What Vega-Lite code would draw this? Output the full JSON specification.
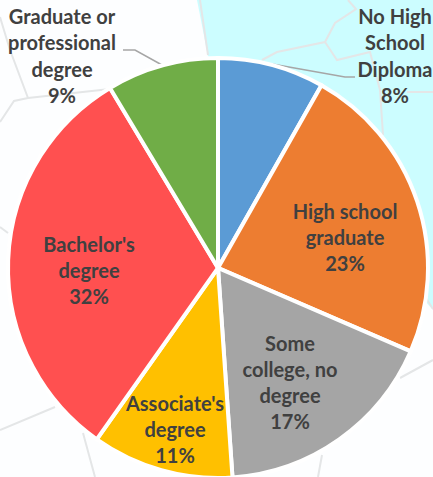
{"$schema":"https://vega.github.io/schema/vega-lite/v6.json","width":433,"height":477,"padding":0,"autosize":{"type":"none"},"background":"#fdfeff","config":{"view":{"stroke":null},"style":{"cell":{"stroke":null}}},
"datasets":{
"slices":[{"category":"No High School Diploma","share":8.2,"rank":1},{"category":"High school graduate","share":23.3,"rank":2},{"category":"Some college, no degree","share":17.4,"rank":3},{"category":"Associate's degree","share":10.9,"rank":4},{"category":"Bachelor's degree","share":31.6,"rank":5},{"category":"Graduate or professional degree","share":8.6,"rank":6}],
"sea":[{"e":197,"n":0,"n2":0},{"e":208,"n":56,"n2":0},{"e":424,"n":300,"n2":0},{"e":433,"n":310,"n2":0}],
"map":[
{"s":"a","i":1,"e":200,"n":0},{"s":"a","i":2,"e":208,"n":55},
{"s":"b","i":1,"e":348,"n":0},{"s":"b","i":2,"e":356,"n":9},{"s":"b","i":3,"e":335,"n":23},{"s":"b","i":4,"e":325,"n":42},{"s":"b","i":5,"e":277,"n":52},{"s":"b","i":6,"e":262,"n":60},
{"s":"c","i":1,"e":325,"n":42},{"s":"c","i":2,"e":337,"n":60},{"s":"c","i":3,"e":370,"n":52},{"s":"c","i":4,"e":380,"n":90},{"s":"c","i":5,"e":383,"n":135},
{"s":"d","i":1,"e":407,"n":92},{"s":"d","i":2,"e":433,"n":92},
{"s":"e","i":1,"e":0,"n":17},{"s":"e","i":2,"e":10,"n":50},{"s":"e","i":3,"e":28,"n":98},
{"s":"f","i":1,"e":0,"n":122},{"s":"f","i":2,"e":14,"n":101},{"s":"f","i":3,"e":28,"n":98},{"s":"f","i":4,"e":110,"n":89},
{"s":"g","i":1,"e":0,"n":227},{"s":"g","i":2,"e":8,"n":233},
{"s":"h","i":1,"e":0,"n":430},{"s":"h","i":2,"e":55,"n":407},
{"s":"j","i":1,"e":83,"n":433},{"s":"j","i":2,"e":95,"n":477},
{"s":"k","i":1,"e":400,"n":378},{"s":"k","i":2,"e":433,"n":360},
{"s":"l","i":1,"e":322,"n":455},{"s":"l","i":2,"e":318,"n":477},
{"s":"m","i":1,"e":426,"n":298},{"s":"m","i":2,"e":433,"n":309}],
"leaders":[
{"s":"grad","i":1,"e":123,"n":50},{"s":"grad","i":2,"e":135,"n":50},{"s":"grad","i":3,"e":162,"n":65},
{"s":"nohs","i":1,"e":272,"n":64},{"s":"nohs","i":2,"e":345,"n":77},{"s":"nohs","i":3,"e":355,"n":77}],
"labels":[
{"t":"Graduate or\nprofessional\ndegree\n9%","e":62,"n":18},
{"t":"No High\nSchool\nDiploma\n8%","e":395,"n":18},
{"t":"High school\ngraduate\n23%","e":345,"n":212.5},
{"t":"Some\ncollege, no\ndegree\n17%","e":290,"n":344.5},
{"t":"Associate's\ndegree\n11%","e":175,"n":404.5},
{"t":"Bachelor's\ndegree\n32%","e":89,"n":245.5}]},
"encoding":{},
"layer":[
{"data":{"name":"sea"},"mark":{"type":"area","color":"#ccfdff"},"encoding":{"x":{"field":"e","type":"quantitative","scale":{"domain":[0,433],"nice":false,"zero":false},"axis":null},"y":{"field":"n","type":"quantitative","scale":{"domain":[477,0],"nice":false,"zero":false},"axis":null},"y2":{"field":"n2"}}},
{"data":{"name":"map"},"mark":{"type":"line","color":"#e4e6e7","strokeWidth":2},"encoding":{"x":{"field":"e","type":"quantitative","axis":null},"y":{"field":"n","type":"quantitative","axis":null},"detail":{"field":"s"},"order":{"field":"i"}}},
{"data":{"name":"leaders"},"mark":{"type":"line","color":"#a6a6a6","strokeWidth":1.5},"encoding":{"x":{"field":"e","type":"quantitative","axis":null},"y":{"field":"n","type":"quantitative","axis":null},"detail":{"field":"s"},"order":{"field":"i"}}},
{"data":{"name":"slices"},"mark":{"type":"arc","outerRadius":210,"stroke":"white","strokeWidth":4},"encoding":{"x":{"datum":218,"type":"quantitative","axis":null},"y":{"datum":268,"type":"quantitative","axis":null},"theta":{"field":"share","type":"quantitative","stack":true,"scale":{"domain":[0,100]}},"order":{"field":"rank"},"color":{"field":"category","type":"nominal","legend":null,"sort":null,"scale":{"domain":["No High School Diploma","High school graduate","Some college, no degree","Associate's degree","Bachelor's degree","Graduate or professional degree"],"range":["#5b9bd5","#ed7d31","#a5a5a5","#ffc000","#ff5050","#70ad47"]}}}},
{"data":{"name":"labels"},"mark":{"type":"text","font":"Lato","fontWeight":"bold","fontSize":20,"color":"#404040","lineBreak":"\n","lineHeight":26.3,"align":"center","baseline":"middle"},"encoding":{"x":{"field":"e","type":"quantitative","axis":null},"y":{"field":"n","type":"quantitative","axis":null},"text":{"field":"t"}}}
]}
